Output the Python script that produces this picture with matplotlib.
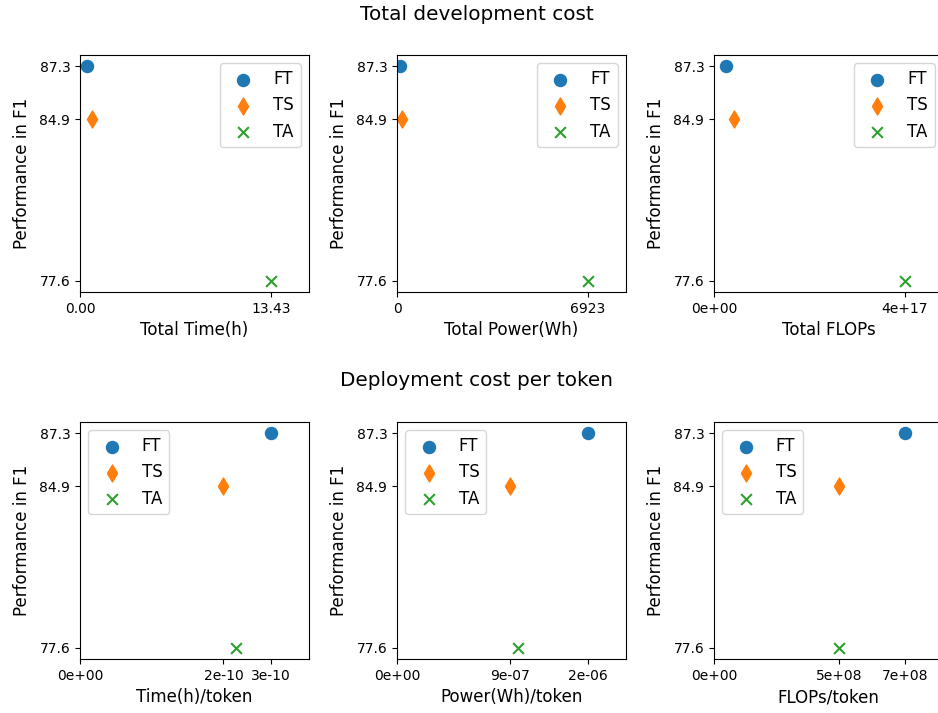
import matplotlib.pyplot as plt
from matplotlib.ticker import FormatStrFormatter

methods = ['FT', 'TS', 'TA']
markers = ['o', 'd', 'x']
colors = ['#1f77b4', '#ff7f0e', '#2ca02c']
sizes = [75, 75, 60]
perf = [87.3, 84.9, 77.6]

# development cost (total)
total_time = [0.5, 0.85, 13.43]
total_power = [110, 180, 6923]
total_flops = [2.5e16, 4.2e16, 4.0e17]

# deployment cost per token
time_tok = [2.9e-10, 2.18e-10, 2.37e-10]
power_tok = [1.5e-6, 8.9e-7, 9.5e-7]
flops_tok = [7.0e8, 4.6e8, 4.6e8]

panels = [
    (total_time, 'Total Time(h)', '%.2f', [0, total_time[2]], 'upper right'),
    (total_power, 'Total Power(Wh)', '%d', [0, total_power[2]], 'upper right'),
    (total_flops, 'Total FLOPs', '%.0e', [0, total_flops[2]], 'upper right'),
    (time_tok, 'Time(h)/token', '%.0e', [0, time_tok[1], time_tok[0]], 'upper left'),
    (power_tok, 'Power(Wh)/token', '%.0e', [0, power_tok[1], power_tok[0]], 'upper left'),
    (flops_tok, 'FLOPs/token', '%.0e', [0, flops_tok[1], flops_tok[0]], 'upper left'),
]

fig = plt.figure(figsize=(9.38, 7.13), dpi=100)
lefts = [80 / 938, 397 / 938, 714 / 938]
bottoms = [1 - 292 / 713, 1 - 659 / 713]
w = 229 / 938
h = 237 / 713

for i, (xs, xlabel, fmt, ticks, loc) in enumerate(panels):
    ax = fig.add_axes([lefts[i % 3], bottoms[i // 3], w, h])
    for j in range(3):
        ax.scatter(xs[j], perf[j], marker=markers[j], color=colors[j], s=sizes[j], label=methods[j])
    ax.set_xlim(0, max(xs) * 1.2)
    ax.set_ylim(min(perf) - 0.5, max(perf) + 0.5)
    ax.set_xticks(ticks)
    ax.xaxis.set_major_formatter(FormatStrFormatter(fmt))
    ax.set_yticks(perf)
    ax.yaxis.set_major_formatter(FormatStrFormatter('%.1f'))
    ax.set_xlabel(xlabel, fontsize=12)
    ax.set_ylabel('Performance in F1', fontsize=12, labelpad=6)
    ax.legend(loc=loc, fontsize=12)

fig.text(476.5 / 938, 1 - 14 / 713, 'Total development cost', ha='center', va='center', fontsize=14.4)
fig.text(476.5 / 938, 1 - 380 / 713, 'Deployment cost per token', ha='center', va='center', fontsize=14.4)

plt.savefig('out.png', dpi=100)
